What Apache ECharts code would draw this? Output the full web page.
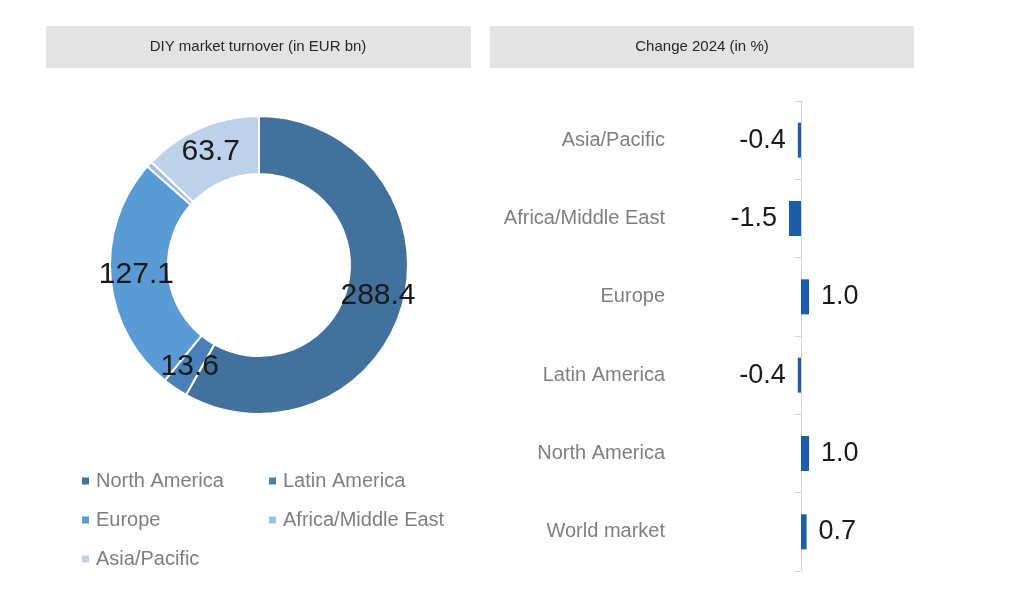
<!DOCTYPE html>
<html>
<head>
<meta charset="utf-8">
<script src="https://cdn.jsdelivr.net/npm/echarts@6/dist/echarts.min.js"></script>
<style>
  html, body { margin: 0; padding: 0; background: #fff; }
  #main { width: 1034px; height: 616px; }
</style>
</head>
<body>
<div id="main"></div>
<script>
// donut: turnover by region
var regions = ['North America', 'Latin America', 'Europe', 'Africa/Middle East', 'Asia/Pacific'];
var turnover = [288.4, 13.6, 127.1, 3.2, 63.7];
var regionColors = ['#41719c', '#4a80b9', '#5b9bd5', '#9cbfe3', '#bed1ea'];

// bars: change 2024, listed top to bottom
var changeCats = ['Asia/Pacific', 'Africa/Middle East', 'Europe', 'Latin America', 'North America', 'World market'];
var changeVals = [-0.4, -1.5, 1.0, -0.4, 1.0, 0.7];

var myChart = echarts.init(document.getElementById('main'));

var pieData = [];
for (var i = 0; i < regions.length; i++) {
    pieData.push({ name: regions[i], value: turnover[i], itemStyle: { color: regionColors[i] } });
}

var barData = [];
for (var j = 0; j < changeVals.length; j++) {
    barData.push({
        value: changeVals[j],
        label: { position: changeVals[j] < 0 ? 'left' : 'right' }
    });
}

var legendText = {
    color: '#7f7f7f',
    fontSize: 20,
    lineHeight: 20,
    fontFamily: 'Liberation Sans',
    padding: [0, 0, 0, 1]
};

var option = {
    animation: false,
    backgroundColor: '#ffffff',
    graphic: [
        { type: 'rect', left: 46, top: 26, shape: { width: 425, height: 42 }, style: { fill: '#e3e3e3' } },
        { type: 'text', x: 258, y: 47, style: { text: 'DIY market turnover (in EUR bn)', fill: '#262626', font: '15px "Liberation Sans"', textAlign: 'center', textVerticalAlign: 'middle' } },
        { type: 'rect', left: 490, top: 26, shape: { width: 424, height: 42 }, style: { fill: '#e3e3e3' } },
        { type: 'text', x: 702, y: 47, style: { text: 'Change 2024 (in %)', fill: '#262626', font: '15px "Liberation Sans"', textAlign: 'center', textVerticalAlign: 'middle' } }
    ],
    legend: [
        {
            orient: 'vertical', left: 75, top: 466, itemWidth: 9, itemHeight: 9, itemGap: 19,
            icon: 'rect', selectedMode: false,
            data: ['North America', 'Europe', 'Asia/Pacific'],
            textStyle: legendText
        },
        {
            orient: 'vertical', left: 262, top: 466, itemWidth: 9, itemHeight: 9, itemGap: 19,
            icon: 'rect', selectedMode: false,
            data: ['Latin America', 'Africa/Middle East'],
            textStyle: legendText
        }
    ],
    grid: { left: 785, width: 32, top: 101, bottom: 45 },
    xAxis: {
        type: 'value', min: -2, max: 2, show: false
    },
    yAxis: {
        type: 'category',
        inverse: true,
        data: changeCats,
        axisLine: { onZero: true, lineStyle: { color: '#d4d4d4', width: 1 } },
        axisTick: { show: true, length: 6, lineStyle: { color: '#d4d4d4' } },
        axisLabel: { margin: 120, color: '#7f7f7f', fontSize: 20, fontFamily: 'Liberation Sans' },
        splitLine: { show: false }
    },
    series: [
        {
            type: 'pie',
            center: [259, 265],
            radius: [91, 149],
            startAngle: 90,
            clockwise: true,
            avoidLabelOverlap: false,
            itemStyle: { borderColor: '#ffffff', borderWidth: 2 },
            label: {
                show: true, position: 'inside',
                color: '#1a1a1a', fontSize: 30, fontFamily: 'Liberation Sans',
                formatter: function (p) { return p.value.toFixed(1); }
            },
            labelLine: { show: false },
            emphasis: { disabled: true },
            data: pieData
        },
        {
            type: 'bar',
            barWidth: 35,
            itemStyle: { color: '#1a5ea6' },
            label: {
                show: true, distance: 12,
                color: '#1a1a1a', fontSize: 27, fontFamily: 'Liberation Sans',
                formatter: function (p) { return p.value.toFixed(1); }
            },
            emphasis: { disabled: true },
            data: barData
        }
    ]
};
myChart.setOption(option);
</script>
</body>
</html>
